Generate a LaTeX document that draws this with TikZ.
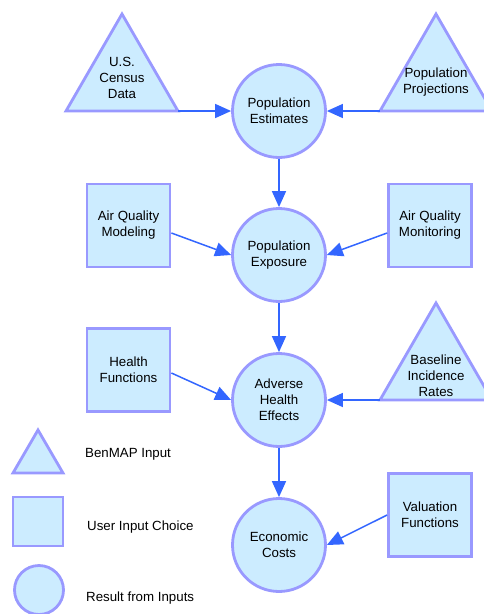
\documentclass[tikz,border=0pt]{standalone}
\usepackage{fontspec}
\setmainfont{Liberation Sans}
\usetikzlibrary{arrows.meta}
\definecolor{fillb}{HTML}{CCECFF}
\definecolor{edgeb}{HTML}{9999FF}
\definecolor{arrb}{HTML}{3366FF}
\begin{document}
\begin{tikzpicture}[x=1pt,y=-1pt,
  shapebase/.style={draw=edgeb,fill=fillb,line width=2.8pt,line join=miter},
  result/.style={shapebase,circle,minimum size=93pt,inner sep=0pt,align=center,font=\fontsize{13.3}{16}\selectfont},
  choice/.style={shapebase,rectangle,minimum size=83pt,inner sep=0pt,align=center,font=\fontsize{13.3}{16}\selectfont},
  lbl/.style={align=center,inner sep=0pt,font=\fontsize{13.3}{16}\selectfont},
  leg/.style={anchor=west,inner sep=0pt,font=\fontsize{13.3}{16}\selectfont},
  flow/.style={draw=arrb,line width=1.5pt,-{Triangle[length=16pt,width=14pt]}}]
\useasboundingbox (0,0) rectangle (484,614);
% triangles
\draw[shapebase] (122,14) -- (178,111) -- (66,111) -- cycle;
\coordinate (censusR) at (178,111);
\node[lbl] (census) at (122,78) {U.S.\\Census\\Data};
\draw[shapebase] (436,14) -- (492,111) -- (380,111) -- cycle;
\coordinate (projL) at (380,111);
\node[lbl] (proj) at (436,82) {Population\\Projections};
\draw[shapebase] (436,303) -- (492,400) -- (380,400) -- cycle;
\coordinate (baseL) at (380,400);
\node[lbl] (base) at (436,376) {Baseline\\Incidence\\Rates};
% circles
\node[result] (est) at (279,111) {Population\\Estimates};
\node[result] (expo) at (279,255) {Population\\Exposure};
\node[result] (ahe) at (279,400) {Adverse\\Health\\Effects};
\node[result] (econ) at (279,545) {Economic\\Costs};
% squares
\node[choice] (aqmod) at (128.5,225.5) {Air Quality\\Modeling};
\node[choice] (aqmon) at (430,225.5) {Air Quality\\Monitoring};
\node[choice] (hf) at (128.5,370) {Health\\Functions};
\node[choice] (val) at (430,515) {Valuation\\Functions};
% arrows
\draw[flow] (censusR) -- (est.west);
\draw[flow] (projL) -- (est.east);
\draw[flow] (est.south) -- (expo.north);
\draw[flow] ([yshift=-7.5pt]aqmod.east) -- (expo.west);
\draw[flow] ([yshift=-7.5pt]aqmon.west) -- (expo.east);
\draw[flow] (expo.south) -- (ahe.north);
\draw[flow] ([yshift=-3pt]hf.east) -- (ahe.west);
\draw[flow] (baseL) -- (ahe.east);
\draw[flow] (ahe.south) -- (econ.north);
\draw[flow] (val.west) -- (econ.east);
% legend
\draw[shapebase] (38,430) -- (63,473) -- (13,473) -- cycle;
\node[leg] (legT) at (85,454) {BenMAP Input};
\draw[shapebase] (13,497) rectangle (63,546);
\node[leg] (legS) at (87,527) {User Input Choice};
\draw[shapebase] (39,590) circle (24.5);
\node[leg] (legC) at (86,598) {Result from Inputs};
\end{tikzpicture}
\end{document}
